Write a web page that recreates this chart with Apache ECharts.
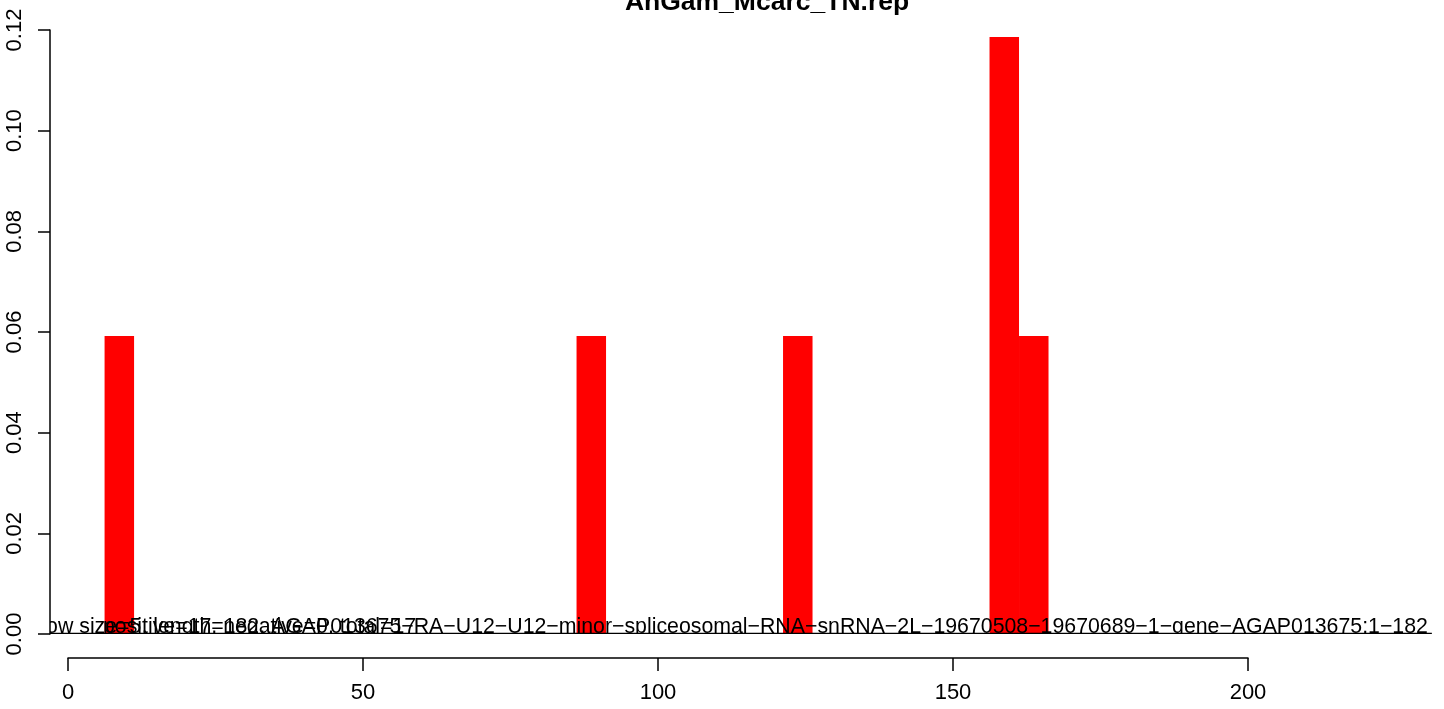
<!DOCTYPE html>
<html><head><meta charset="utf-8">
<script src="https://cdn.jsdelivr.net/npm/echarts@6/dist/echarts.min.js"></script>
<style>html,body{margin:0;padding:0;background:#fff}#c{width:1444px;height:709px}</style>
</head><body><div id="c"></div>
<script>
const chartTitle = "AnGam_Mcarc_TN.rep";
const binStart = [6.2, 86.2, 121.2, 156.2, 161.2];
const binEnd = [11.2, 91.2, 126.2, 161.2, 166.2];
const freq = [0.0592, 0.0592, 0.0592, 0.1186, 0.0592];
const xTicks = [0, 50, 100, 150, 200];
const yTicks = [0, 0.02, 0.04, 0.06, 0.08, 0.10, 0.12];
const infoText = "Window size=5, length=182, AGAP013675\u2212RA\u2212U12\u2212U12\u2212minor\u2212spliceosomal\u2212RNA\u2212snRNA\u22122L\u221219670508\u221219670689\u22121\u2212gene\u2212AGAP013675:1\u2212182";
const countText = "positive=17, negative=0, total=17";

const FONT = "'Liberation Sans', Arial, sans-serif";
const chart = echarts.init(document.getElementById('c'), null, {renderer: 'canvas'});
const barData = binStart.map((s, i) => [s, binEnd[i], freq[i]]);

chart.setOption({
  animation: false,
  backgroundColor: '#fff',
  graphic: [{
    type: 'text', x: 767, y: 16, z: 10,
    style: {text: chartTitle, textAlign: 'center', textVerticalAlign: 'bottom',
            font: 'bold 26.5px ' + FONT, fill: '#000'}
  }],
  grid: [
    {left: 50, right: 12, top: 30, height: 604},
    {left: 68, width: 1180, top: 657, height: 1}
  ],
  xAxis: [
    {gridIndex: 0, type: 'value', min: -3.05, max: 231.2, show: false},
    {gridIndex: 1, type: 'value', min: xTicks[0], max: xTicks[xTicks.length - 1], interval: 50,
     axisLine: {show: true, onZero: false, lineStyle: {color: '#000', width: 1.5}},
     axisTick: {show: true, length: 13, lineStyle: {color: '#000', width: 1.5}},
     axisLabel: {fontSize: 22, fontFamily: FONT, color: '#000', margin: 24,
                 formatter: v => xTicks.includes(v) ? String(v) : ''},
     splitLine: {show: false}}
  ],
  yAxis: [
    {gridIndex: 0, type: 'value', min: yTicks[0], max: yTicks[yTicks.length - 1], interval: 0.02,
     axisLine: {show: true, onZero: false, lineStyle: {color: '#000', width: 1.5}},
     axisTick: {show: true, length: 12, lineStyle: {color: '#000', width: 1.5}},
     axisLabel: {rotate: 90, fontSize: 22, fontFamily: FONT, color: '#000', margin: 24,
                 formatter: v => v.toFixed(2)},
     splitLine: {show: false}},
    {gridIndex: 1, type: 'value', min: 0, max: 1, show: false}
  ],
  series: [
    {
      type: 'custom', xAxisIndex: 0, yAxisIndex: 0, z: 2,
      data: barData,
      encode: {x: [0, 1], y: 2},
      renderItem: function (params, api) {
        const p0 = api.coord([api.value(0), api.value(2)]);
        const p1 = api.coord([api.value(1), 0]);
        return {type: 'rect', shape: {x: p0[0], y: p0[1], width: p1[0] - p0[0], height: p1[1] - p0[1]},
                style: {fill: '#ff0000'}};
      }
    },
    {
      type: 'custom', xAxisIndex: 0, yAxisIndex: 0, z: 5, clip: true, silent: true,
      data: [[230.5, 0, 5.93]],
      renderItem: function (params, api) {
        const cs = params.coordSys;
        const pr = api.coord([api.value(0), api.value(1)]);
        const pl = api.coord([api.value(2), api.value(1)]);
        return {type: 'group', children: [
          {type: 'line', shape: {x1: cs.x, y1: pr[1] - 0.7, x2: pr[0] + 4, y2: pr[1] - 0.7},
           style: {stroke: '#000', lineWidth: 1.3}},
          {type: 'text', x: pr[0], y: pr[1] + 4,
           style: {text: infoText, textAlign: 'right', textVerticalAlign: 'bottom',
                   font: '21.3px ' + FONT, fill: '#000'}},
          {type: 'text', x: pl[0], y: pr[1] + 4,
           style: {text: countText, textAlign: 'left', textVerticalAlign: 'bottom',
                   font: '21.3px ' + FONT, fill: '#000'}}
        ]};
      }
    }
  ]
});
</script></body></html>
